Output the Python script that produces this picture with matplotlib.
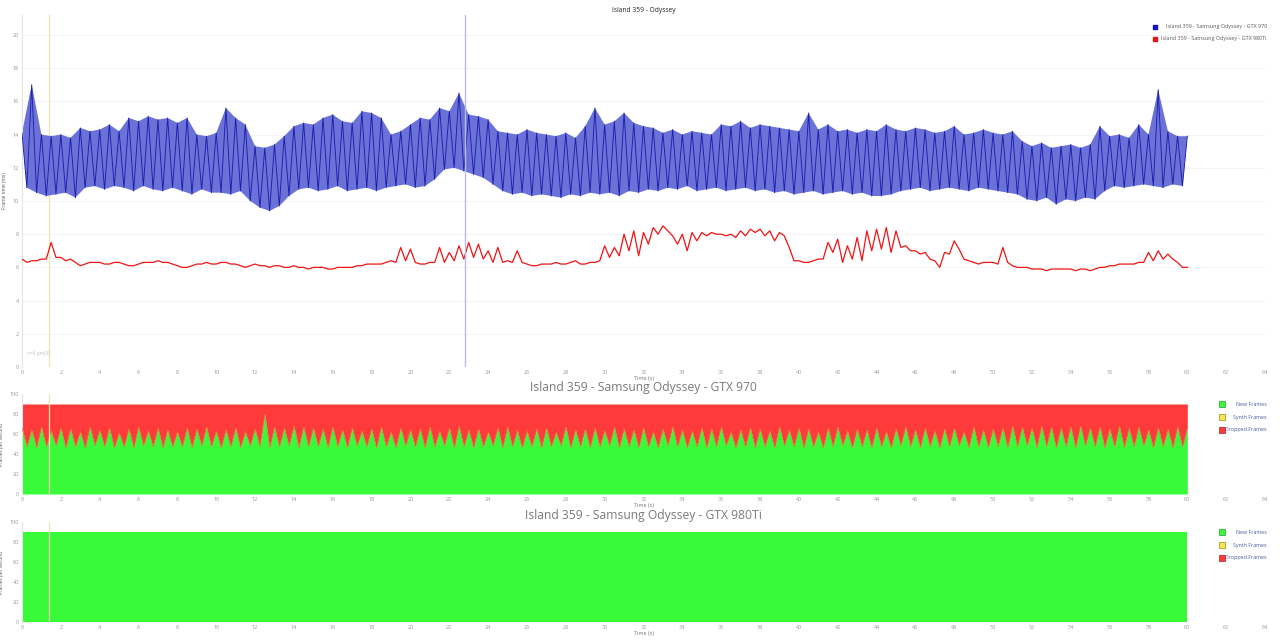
import numpy as np
import matplotlib
matplotlib.use("Agg")
import matplotlib.pyplot as plt

plt.rcParams['font.family'] = ['Open Sans', 'DejaVu Sans']

# ---------------- data ----------------
# Frame time (ms), GTX 970: upper samples at t = 0, 0.5, ..., 60 ; lower samples at t = 0.25, 0.75, ..., 59.75
ft970_hi = [14.1, 17.0, 14.0, 13.9, 14.0, 13.8, 14.4, 14.2, 14.3, 14.6,
            14.2, 15.0, 14.8, 15.1, 14.9, 15.0, 14.7, 15.0, 14.0, 13.9,
            14.1, 15.6, 15.0, 14.6, 13.3, 13.2, 13.4, 13.9, 14.5, 14.7,
            14.6, 15.0, 15.2, 14.8, 14.7, 15.4, 15.3, 15.0, 14.0, 14.2,
            14.6, 15.0, 14.9, 15.6, 15.4, 16.5, 15.2, 15.1, 14.9, 14.2,
            14.1, 14.0, 14.3, 14.1, 14.0, 13.9, 14.1, 13.8, 14.5, 15.6,
            14.6, 14.8, 15.3, 14.7, 14.5, 14.4, 14.1, 14.3, 14.0, 14.2,
            14.1, 14.0, 14.6, 14.5, 14.8, 14.4, 14.6, 14.5, 14.4, 14.3,
            14.2, 15.3, 14.3, 14.6, 14.2, 14.3, 14.1, 14.3, 14.2, 14.6,
            14.3, 14.2, 14.4, 14.3, 14.1, 14.2, 14.5, 14.0, 14.1, 14.3,
            14.1, 14.0, 14.2, 13.6, 13.3, 13.5, 13.2, 13.3, 13.4, 13.2,
            13.4, 14.5, 13.9, 14.0, 13.8, 14.6, 14.0, 16.7, 14.2, 13.9,
            13.9]
ft970_lo = [10.8, 10.5, 10.3, 10.4, 10.5, 10.2, 10.8, 10.9, 10.7, 10.9,
            10.8, 10.6, 10.9, 10.7, 10.6, 10.8, 10.6, 10.4, 10.7, 10.5,
            10.5, 10.4, 10.6, 10.0, 9.6, 9.4, 9.7, 10.3, 10.7, 10.8,
            10.6, 10.7, 10.9, 10.6, 10.7, 10.8, 10.6, 10.8, 10.9, 11.0,
            10.8, 10.9, 11.3, 11.9, 12.0, 11.8, 11.6, 11.4, 11.0, 10.6,
            10.4, 10.5, 10.3, 10.4, 10.3, 10.2, 10.4, 10.3, 10.5, 10.4,
            10.5, 10.3, 10.6, 10.5, 10.7, 10.6, 10.8, 10.7, 10.9, 10.6,
            10.7, 10.8, 10.6, 10.7, 10.8, 10.6, 10.7, 10.5, 10.6, 10.4,
            10.5, 10.6, 10.4, 10.5, 10.6, 10.4, 10.5, 10.3, 10.3, 10.4,
            10.6, 10.7, 10.8, 10.6, 10.7, 10.8, 10.7, 10.6, 10.8, 10.7,
            10.6, 10.5, 10.4, 10.1, 10.0, 10.2, 9.8, 10.1, 10.0, 10.2,
            10.1, 10.6, 10.9, 10.8, 10.9, 11.0, 10.9, 10.8, 11.0, 10.9]

# Frame time (ms), GTX 980Ti: samples at t = 0, 0.5, ..., 60 and t = 0.25, 0.75, ..., 59.75
ft980_a = [6.5, 6.4, 6.5, 7.5, 6.6, 6.5, 6.1, 6.3, 6.3, 6.2,
           6.3, 6.1, 6.2, 6.3, 6.4, 6.3, 6.1, 6.0, 6.2, 6.3,
           6.2, 6.3, 6.2, 6.0, 6.2, 6.1, 6.1, 6.0, 6.1, 6.0,
           6.0, 6.0, 5.9, 6.0, 6.0, 6.1, 6.2, 6.2, 6.4, 7.2,
           7.1, 6.2, 6.3, 7.2, 6.9, 7.3, 7.5, 7.4, 7.0, 7.2,
           6.4, 7.0, 6.2, 6.1, 6.2, 6.3, 6.2, 6.4, 6.2, 6.3,
           7.3, 7.2, 8.0, 8.2, 8.1, 8.4, 8.5, 7.9, 8.0, 8.1,
           8.1, 8.1, 8.0, 8.0, 8.2, 8.3, 8.3, 8.2, 8.1, 7.2,
           6.4, 6.3, 6.5, 7.5, 7.7, 7.3, 7.8, 8.2, 8.3, 8.4,
           8.2, 7.3, 7.0, 6.9, 6.4, 6.9, 7.6, 6.5, 6.3, 6.3,
           6.3, 7.2, 6.1, 6.0, 5.9, 5.9, 5.9, 5.9, 5.9, 5.9,
           5.8, 6.0, 6.1, 6.2, 6.2, 6.3, 6.9, 7.0, 6.8, 6.3,
           6.0]
ft980_b = [6.3, 6.4, 6.5, 6.6, 6.4, 6.3, 6.2, 6.3, 6.2, 6.3,
           6.2, 6.1, 6.3, 6.3, 6.3, 6.2, 6.0, 6.1, 6.2, 6.2,
           6.3, 6.2, 6.1, 6.1, 6.1, 6.0, 6.1, 6.0, 6.0, 5.9,
           6.0, 5.9, 6.0, 6.0, 6.1, 6.2, 6.2, 6.3, 6.3, 6.4,
           6.3, 6.2, 6.3, 6.3, 6.4, 6.5, 6.6, 6.5, 6.3, 6.3,
           6.3, 6.3, 6.1, 6.2, 6.2, 6.2, 6.3, 6.2, 6.3, 6.4,
           6.6, 6.7, 7.0, 6.7, 7.4, 8.0, 8.2, 7.4, 7.0, 7.6,
           7.9, 8.0, 7.9, 7.8, 7.9, 8.1, 7.9, 7.6, 7.9, 6.4,
           6.3, 6.4, 6.5, 6.9, 6.3, 6.5, 6.4, 7.0, 7.1, 6.9,
           7.2, 7.0, 6.8, 6.5, 6.0, 6.8, 7.1, 6.4, 6.2, 6.3,
           6.2, 6.3, 6.0, 6.0, 5.9, 5.8, 5.9, 5.9, 5.8, 5.9,
           5.9, 6.0, 6.1, 6.2, 6.2, 6.3, 6.4, 6.5, 6.5, 6.0]

# Frames per second, GTX 970 (new frames); upper at t = 0, 0.5, ...; lower at t = 0.25, 0.75, ...
new970_hi = [66, 64, 67, 63, 66, 65, 62, 67, 64, 66,
             61, 65, 67, 63, 66, 64, 62, 66, 65, 67,
             63, 64, 66, 62, 65, 80, 67, 66, 68, 67,
             66, 65, 67, 64, 66, 63, 65, 67, 62, 66,
             64, 65, 67, 63, 66, 68, 64, 65, 62, 66,
             67, 64, 63, 65, 66, 62, 67, 64, 65, 66,
             63, 67, 65, 64, 66, 62, 65, 67, 64, 63,
             66, 65, 67, 62, 64, 66, 65, 63, 67, 64,
             66, 65, 62, 66, 67, 63, 65, 64, 66, 62,
             65, 67, 64, 66, 63, 65, 66, 62, 67, 64,
             65, 66, 68, 67, 66, 68, 67, 66, 67, 68,
             66, 67, 65, 68, 66, 67, 64, 66, 65, 67,
             66]
new970_lo = [47, 46, 47, 48, 46, 47, 46, 48, 47, 46,
             47, 46, 48, 47, 46, 47, 47, 46, 48, 47,
             46, 47, 46, 48, 47, 46, 47, 48, 46, 47,
             47, 46, 47, 46, 48, 47, 46, 47, 46, 48,
             47, 46, 47, 48, 46, 47, 46, 47, 48, 46,
             47, 46, 47, 46, 47, 48, 46, 47, 46, 47,
             48, 46, 47, 46, 47, 46, 48, 47, 46, 47,
             46, 47, 48, 46, 47, 46, 47, 46, 48, 47,
             46, 47, 46, 47, 48, 46, 47, 46, 47, 46,
             48, 47, 46, 47, 46, 47, 48, 46, 47, 46,
             47, 46, 47, 48, 46, 47, 46, 47, 46, 48,
             47, 46, 47, 46, 47, 48, 46, 47, 46, 47]
total970 = 90

# GTX 980Ti: all frames new
t980_fps = [0, 60]
new980 = [90, 90]

marker_yellow_t = 1.4
marker_blue_t = 22.8

title_top = "Island 359 - Odyssey"
legend_labels = ["Island 359 - Samsung Odyssey - GTX 970",
                 "Island 359 - Samsung Odyssey - GTX 980Ti"]
title_mid = "Island 359 - Samsung Odyssey - GTX 970"
title_bot = "Island 359 - Samsung Odyssey - GTX 980Ti"
fps_labels = ["New Frames", "Synth Frames", "Dropped Frames"]
xticks = list(range(0, 66, 2))

# ---------------- helpers ----------------
def times(vals, offset):
    return offset + np.arange(len(vals)) * 0.5

def merged(hi, lo):
    t = np.concatenate([times(hi, 0.0), times(lo, 0.25)])
    v = np.concatenate([np.asarray(hi, float), np.asarray(lo, float)])
    o = np.argsort(t, kind="stable")
    return t[o], v[o]

TICK_C = "#9a9a9a"
GREEN = "#38fa38"
RED = "#fe3a3a"
YEL_LINE = "#efe3b0"

fig = plt.figure(figsize=(12.8, 6.41), dpi=100)
L, R = 22 / 1280, 1265 / 1280

def style(ax, ylab):
    ax.set_xlim(0, 64)
    ax.set_xticks(xticks)
    ax.tick_params(axis="both", length=0, labelsize=4, colors=TICK_C, pad=2)
    for s in ["top", "right", "bottom"]:
        ax.spines[s].set_visible(False)
    ax.spines["left"].set_color("#e4e4e4")
    ax.spines["left"].set_linewidth(0.8)
    ax.set_ylabel(ylab, fontsize=3.5, color="#555555", labelpad=4)
    ax.set_xlabel("Time (s)", fontsize=4, color="#777777", labelpad=1)

# ---------------- top chart ----------------
ax1 = fig.add_axes([L, 1 - 367 / 641, R - L, (367 - 15) / 641])
style(ax1, "Frame time (ms)")
ax1.set_ylim(0, 21.2)
ax1.set_yticks(range(0, 22, 2))
ax1.grid(axis="y", color="#f3f3f3", linewidth=0.6)
ax1.set_axisbelow(True)

th = times(ft970_hi, 0.0)
tl = times(ft970_lo, 0.25)
ax1.fill(np.concatenate([th, tl[::-1]]),
         np.concatenate([ft970_hi, ft970_lo[::-1]]),
         color="#6a72d8", linewidth=0, zorder=2)
tb, vb = merged(ft970_hi, ft970_lo)
ax1.plot(tb, vb, color="#1e1eaa", linewidth=0.65, zorder=3)
tr, vr = merged(ft980_a, ft980_b)
ax1.plot(tr, vr, color="#f01414", linewidth=0.9, zorder=3)

ax1.axvline(marker_yellow_t, color=YEL_LINE, linewidth=0.9, zorder=1)
ax1.axvline(marker_blue_t, color="#b8bce2", linewidth=1.0, zorder=4)
ax1.text(0.25, 0.75, "n=4 pm(3)", fontsize=3.5, color="#c0c0c0")
ax1.set_title(title_top, fontsize=4.8, color="#222222", pad=2)

for yf, col, lab in zip([0.966, 0.932], ["#1515c8", "#e01515"], legend_labels):
    ax1.scatter([0.9115], [yf], marker="s", s=10, color=col, transform=ax1.transAxes,
                clip_on=False, zorder=5)
    ax1.text(1.0016, yf, lab, transform=ax1.transAxes, ha="right", va="center",
             fontsize=3.9, color="#555555")

# ---------------- fps charts ----------------
def fps_legend(ax):
    for yf, c, e, l in zip([0.90, 0.77, 0.64], [GREEN, "#f5e64a", RED],
                           ["#2a9a2a", "#9a8a20", "#a02020"], fps_labels):
        ax.scatter([0.9654], [yf], marker="s", s=14, color=c, edgecolors=e, linewidths=0.5,
                   transform=ax.transAxes, clip_on=False, zorder=5)
        ax.text(1.0016, yf, l, transform=ax.transAxes, ha="right", va="center",
                fontsize=3.8, color="#4a5aa0")

ax2 = fig.add_axes([L, 1 - 494 / 641, R - L, 100 / 641])
style(ax2, "Frames per second")
ax2.set_ylim(0, 100)
ax2.set_yticks(range(0, 101, 20))
tg, vg = merged(new970_hi, new970_lo)
ax2.fill_between(tg, 0, vg, color=GREEN, linewidth=0, zorder=2)
ax2.fill_between(tg, vg, total970, color=RED, linewidth=0, zorder=2)
ax2.plot(tg, vg, color="#c8902a", linewidth=0.4, zorder=3)
ax2.axvline(marker_yellow_t, color=YEL_LINE, linewidth=0.9, zorder=4)
ax2.set_title(title_mid, fontsize=8.7, color="#7a7a7a", pad=1)
fps_legend(ax2)

ax3 = fig.add_axes([L, 1 - 622 / 641, R - L, 100 / 641])
style(ax3, "Frames per second")
ax3.set_ylim(0, 100)
ax3.set_yticks(range(0, 101, 20))
ax3.fill_between(t980_fps, 0, new980, color=GREEN, linewidth=0, zorder=2)
ax3.axvline(marker_yellow_t, color=YEL_LINE, linewidth=0.9, zorder=4)
ax3.set_title(title_bot, fontsize=8.7, color="#7a7a7a", pad=1)
fps_legend(ax3)

fig.savefig("out.png", dpi=100, facecolor="white")
